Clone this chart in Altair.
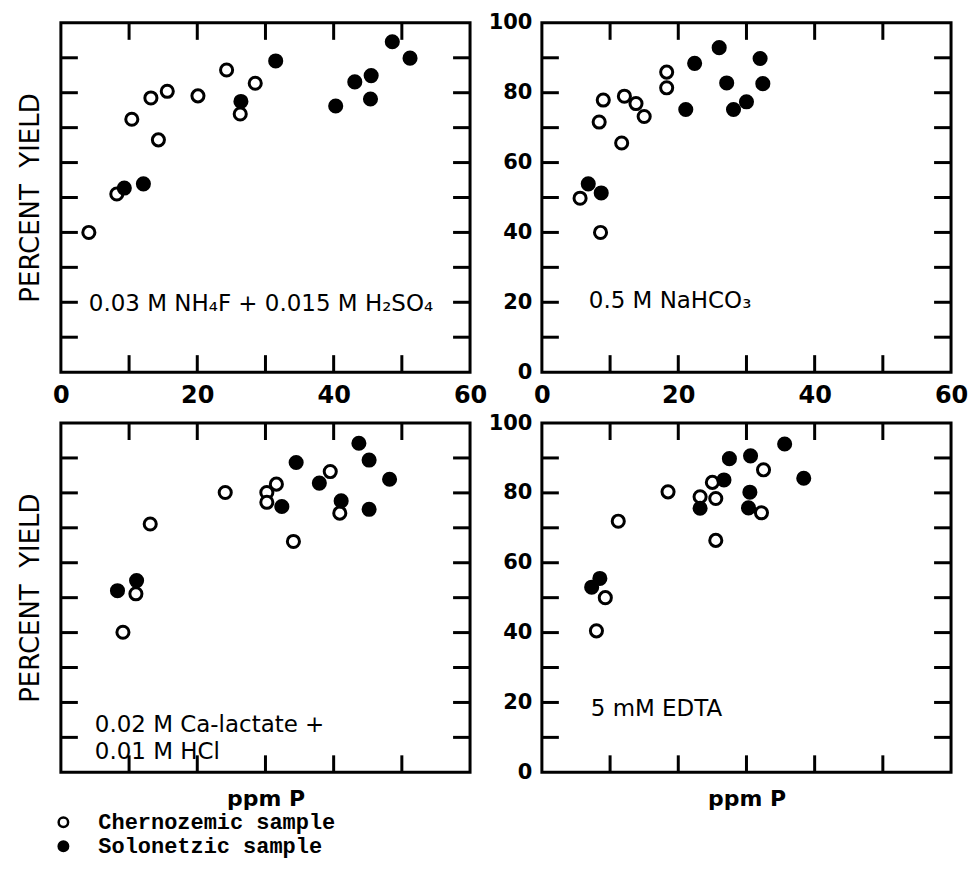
import altair as alt
import pandas as pd

# ---------------- data ----------------
panels = ["NH4F", "NaHCO3", "Ca-lactate", "EDTA"]
panel_labels = [
    "0.03 M NH₄F + 0.015 M H₂SO₄",
    "0.5 M NaHCO₃",
    "0.02 M Ca-lactate +\n0.01 M HCl",
    "5 mM EDTA",
]
samples = ["Chernozemic sample", "Solonetzic sample"]

# Panel 1: 0.03 M NH4F + 0.015 M H2SO4
p1_ch_x = [4.1, 8.2, 10.4, 14.3, 13.2, 15.6, 20.1, 24.3, 26.3, 28.5]
p1_ch_y = [40.0, 51.0, 72.4, 66.5, 78.5, 80.4, 79.1, 86.5, 73.9, 82.7]
p1_so_x = [9.3, 12.1, 26.4, 31.5, 40.3, 43.1, 45.4, 45.5, 48.6, 51.2]
p1_so_y = [52.7, 53.9, 77.5, 89.1, 76.2, 83.1, 78.2, 84.9, 94.6, 89.9]

# Panel 2: 0.5 M NaHCO3
p2_ch_x = [5.6, 8.6, 8.4, 9.0, 11.7, 12.1, 13.8, 15.0, 18.3, 18.3]
p2_ch_y = [49.8, 40.0, 71.6, 77.9, 65.6, 79.0, 76.9, 73.2, 85.9, 81.4]
p2_so_x = [6.8, 8.7, 21.1, 22.4, 26.0, 27.1, 28.1, 30.0, 32.0, 32.4]
p2_so_y = [53.9, 51.3, 75.2, 88.4, 92.9, 82.8, 75.2, 77.4, 89.8, 82.6]

# Panel 3: 0.02 M Ca-lactate + 0.01 M HCl
p3_ch_x = [9.1, 11.0, 13.1, 24.1, 30.2, 30.2, 31.6, 34.1, 39.5, 40.9]
p3_ch_y = [40.1, 51.1, 71.1, 80.1, 80.1, 77.3, 82.5, 66.1, 86.1, 74.2]
p3_so_x = [8.3, 11.1, 32.4, 34.5, 37.9, 41.1, 43.7, 45.2, 45.2, 48.2]
p3_so_y = [52.0, 54.9, 76.1, 88.7, 82.8, 77.7, 94.2, 89.4, 75.3, 83.9]

# Panel 4: 5 mM EDTA
p4_ch_x = [8.0, 9.3, 11.2, 18.5, 23.2, 25.0, 25.5, 25.5, 32.5, 32.2]
p4_ch_y = [40.5, 50.0, 71.9, 80.3, 78.9, 83.0, 78.4, 66.4, 86.6, 74.3]
p4_so_x = [7.3, 8.5, 23.2, 26.7, 27.5, 30.6, 30.5, 30.3, 35.6, 38.4]
p4_so_y = [53.0, 55.5, 75.6, 83.7, 89.8, 90.6, 80.2, 75.7, 94.0, 84.2]

x_label_values = [0, 20, 40, 60]
y_label_values = [0, 20, 40, 60, 80, 100]
x_tick_values = [10, 20, 30, 40, 50]
y_tick_values = [10, 20, 30, 40, 50, 60, 70, 80, 90]

series = [
    (p1_ch_x, p1_ch_y, p1_so_x, p1_so_y),
    (p2_ch_x, p2_ch_y, p2_so_x, p2_so_y),
    (p3_ch_x, p3_ch_y, p3_so_x, p3_so_y),
    (p4_ch_x, p4_ch_y, p4_so_x, p4_so_y),
]

# ---------------- layout ----------------
W, H = 410, 350
TICK = 17
XS = alt.Scale(domain=[0, 60], nice=False, zero=False)
YS = alt.Scale(domain=[0, 100], nice=False, zero=False)
FILL = alt.Scale(domain=samples, range=["white", "black"])

ann_pos = [(28, 282), (47, 279), (34, 303), (49, 287)]

legend = alt.Legend(
    title=None, orient="none", legendX=-8.5, legendY=790,
    labelFont="Liberation Mono", labelFontSize=22, labelFontWeight="bold",
    labelColor="black", labelOffset=24, labelLimit=0, symbolSize=90,
    symbolStrokeWidth=2.5, symbolStrokeColor="black", symbolType="circle",
    rowPadding=2, padding=0,
)


def panel(i):
    chx, chy, sox, soy = series[i]
    df = pd.DataFrame({
        "ppm": chx + sox,
        "yield": chy + soy,
        "sample": [samples[0]] * len(chx) + [samples[1]] * len(sox),
    })
    top = i < 2
    left = i % 2 == 0

    xa = dict(grid=False, ticks=False, domain=False)
    if top:
        xa.update(values=x_label_values, labels=True, labelFlush=False,
                  labelFontSize=24, labelPadding=11, title=None)
    else:
        xa.update(labels=False, title="ppm P", titleFontSize=22,
                  titleFontWeight="bold", titlePadding=16)
    ya = dict(grid=False, ticks=False, domain=False)
    if left:
        ya.update(labels=False, title="PERCENT\u00a0\u00a0YIELD",
                  titleFontSize=26, titleFontWeight="normal", titlePadding=17)
    else:
        ya.update(values=y_label_values, labels=True, labelFontSize=21,
                  labelPadding=10, labelFlush=False, title=None)

    X = lambda: alt.X("ppm:Q", scale=XS, axis=alt.Axis(**xa))
    Y = lambda: alt.Y("yield:Q", scale=YS, axis=alt.Axis(**ya))

    pts = alt.Chart(df).mark_point(
        filled=True, size=147, stroke="black", strokeWidth=3,
        opacity=1, fillOpacity=1,
    ).encode(
        x=X(), y=Y(),
        fill=alt.Fill("sample:N", scale=FILL, legend=legend),
    )

    xt = alt.Chart(pd.DataFrame({"ppm": x_tick_values}))
    yt = alt.Chart(pd.DataFrame({"yield": y_tick_values}))
    rule = dict(color="black", strokeWidth=3)
    tb = xt.mark_rule(**rule).encode(x=X(), y=alt.value(H), y2=alt.value(H - TICK))
    tt = xt.mark_rule(**rule).encode(x=X(), y=alt.value(0), y2=alt.value(TICK))
    tl = yt.mark_rule(**rule).encode(y=Y(), x=alt.value(0), x2=alt.value(TICK))
    tr = yt.mark_rule(**rule).encode(y=Y(), x=alt.value(W - TICK), x2=alt.value(W))

    ax, ay = ann_pos[i]
    ann = alt.Chart(pd.DataFrame({"t": [panel_labels[i]]})).mark_text(
        align="left", baseline="middle", font="DejaVu Sans", fontSize=23,
        color="black", lineBreak="\n", lineHeight=27,
    ).encode(text="t:N", x=alt.value(ax), y=alt.value(ay))

    return alt.layer(pts, tb, tt, tl, tr, ann).properties(width=W, height=H)


chart = alt.concat(
    panel(0), panel(1), panel(2), panel(3), columns=2,
    spacing={"row": 51, "column": 72},
).properties(
    bounds="flush",
    padding={"left": 8, "top": 1, "right": 0, "bottom": 5},
).resolve_scale(fill="shared").resolve_legend(fill="shared").configure_view(
    stroke="black", strokeWidth=3,
).configure_axis(
    labelColor="black", titleColor="black", labelFont="DejaVu Sans",
    labelFontWeight="bold", titleFont="DejaVu Sans",
)

chart.save("out.html", embed_options={"renderer": "svg", "actions": False})
